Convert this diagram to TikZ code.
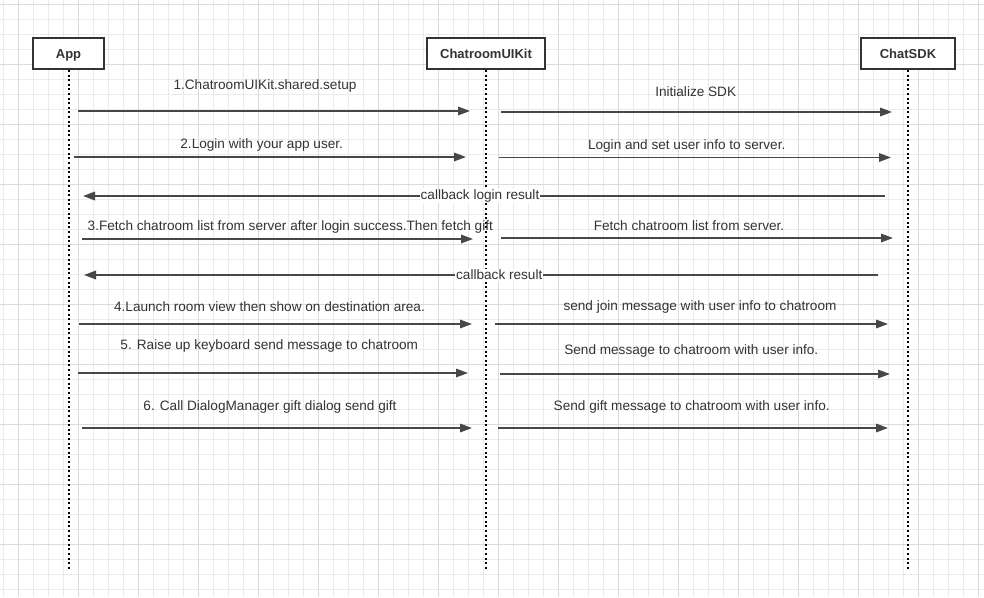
\documentclass[tikz,border=0pt]{standalone}
\usepackage{fontspec}
\setmainfont{Liberation Sans}
\usetikzlibrary{arrows.meta}
\definecolor{gridminor}{HTML}{EBEBEB}
\definecolor{gridmajor}{HTML}{DBDBDB}
\definecolor{ink}{HTML}{333333}
\definecolor{wire}{HTML}{474747}
\tikzset{
  actor/.style={draw=ink, line width=1.8pt, fill=white, inner sep=0pt, minimum height=31pt,
    text height=9.4pt, text depth=0pt,
    text=ink, font=\fontsize{13}{15}\selectfont\bfseries},
  lifeline/.style={draw=black, line width=2pt, dash pattern=on 2pt off 2.6pt},
  msg/.style={draw=wire, line width=1.7pt, -{Triangle[length=12pt,width=8.5pt]}},
  lbl/.style={text=ink, inner sep=1pt, font=\fontsize{13.6}{16}\selectfont},
  cblbl/.style={lbl, fill=white, inner sep=1pt},
}
\begin{document}
\begin{tikzpicture}[x=1pt,y=-1pt]
\useasboundingbox (0,0) rectangle (984,597);
\fill[white] (0,0) rectangle (984,597);
% grid
\foreach \x in {3.3,18.3,...,984} \draw[gridminor, line width=1pt] (\x,0) -- (\x,597);
\foreach \y in {4.3,19.3,...,597} \draw[gridminor, line width=1pt] (0,\y) -- (984,\y);
\foreach \x in {18.3,78.3,...,984} \draw[gridmajor, line width=1pt] (\x,0) -- (\x,597);
\foreach \y in {4.3,64.3,...,597} \draw[gridmajor, line width=1pt] (0,\y) -- (984,\y);

% actors
\node[actor, minimum width=71pt] (app) at (68.5,53.5) {App};
\node[actor, minimum width=118pt] (kit) at (486,53.5) {ChatroomUIKit};
\node[actor, minimum width=94pt] (sdk) at (908,53.5) {ChatSDK};

\coordinate (appEnd) at (68.5,570);
\coordinate (kitEnd) at (486,570);
\coordinate (sdkEnd) at (908,570);
\draw[lifeline] (app.south) -- (appEnd);
\draw[lifeline] (kit.south) -- (kitEnd);
\draw[lifeline] (sdk.south) -- (sdkEnd);

% message end points
\coordinate (m1a) at (78,111);   \coordinate (m1b) at (470,111);
\coordinate (n1a) at (501,112);  \coordinate (n1b) at (892,112);
\coordinate (m2a) at (74,157);   \coordinate (m2b) at (466,157);
\coordinate (n2a) at (499,157.5);\coordinate (n2b) at (891,157.5);
\coordinate (c1a) at (885,196);  \coordinate (c1b) at (83,196);
\coordinate (m3a) at (82,239);   \coordinate (m3b) at (473,239);
\coordinate (n3a) at (501,238);  \coordinate (n3b) at (893,238);
\coordinate (c2a) at (878,275);  \coordinate (c2b) at (84,275);
\coordinate (m4a) at (79,324);   \coordinate (m4b) at (472,324);
\coordinate (n4a) at (495,324);  \coordinate (n4b) at (888,324);
\coordinate (m5a) at (78,373);   \coordinate (m5b) at (468,373);
\coordinate (n5a) at (500,374);  \coordinate (n5b) at (890,374);
\coordinate (m6a) at (82,428);   \coordinate (m6b) at (472,428);
\coordinate (n6a) at (498,428);  \coordinate (n6b) at (888,428);

\draw[msg] (m1a) -- (m1b);
\draw[msg] (n1a) -- (n1b);
\draw[msg] (m2a) -- (m2b);
\draw[msg] (n2a) -- (n2b);
\draw[msg] (c1a) -- node[cblbl, pos=0.505] (c1l) {callback login result} (c1b);
\draw[msg] (m3a) -- (m3b);
\draw[msg] (n3a) -- (n3b);
\draw[msg] (c2a) -- node[cblbl, pos=0.477] (c2l) {callback result} (c2b);
\draw[msg] (m4a) -- (m4b);
\draw[msg] (n4a) -- (n4b);
\draw[msg] (m5a) -- (m5b);
\draw[msg] (n5a) -- (n5b);
\draw[msg] (m6a) -- (m6b);
\draw[msg] (n6a) -- (n6b);

% labels
\node[lbl] (l1) at (265,86) {1.ChatroomUIKit.shared.setup};
\node[lbl] (r1) at (695.7,92) {Initialize SDK};
\node[lbl] (l2) at (261.7,145) {2.Login with your app user.};
\node[lbl] (r2) at (686.7,146) {Login and set user info to server.};
\node[lbl] (l3) at (290.3,227) {3.Fetch chatroom list from server after login success.Then fetch gift};
\node[lbl] (r3) at (689,226) {Fetch chatroom list from server.};
\node[lbl] (l4) at (269.5,307) {4.Launch room view then show on destination area.};
\node[lbl] (r4) at (700,307) {send join message with user info to chatroom};
\node[lbl] (l5) at (269.3,346) {5. Raise up keyboard send message to chatroom};
\node[lbl] (r5) at (691.3,351) {Send message to chatroom with user info.};
\node[lbl] (l6) at (270,407) {6. Call DialogManager gift dialog send gift};
\node[lbl] (r6) at (691.7,407) {Send gift message to chatroom with user info.};
\end{tikzpicture}
\end{document}
